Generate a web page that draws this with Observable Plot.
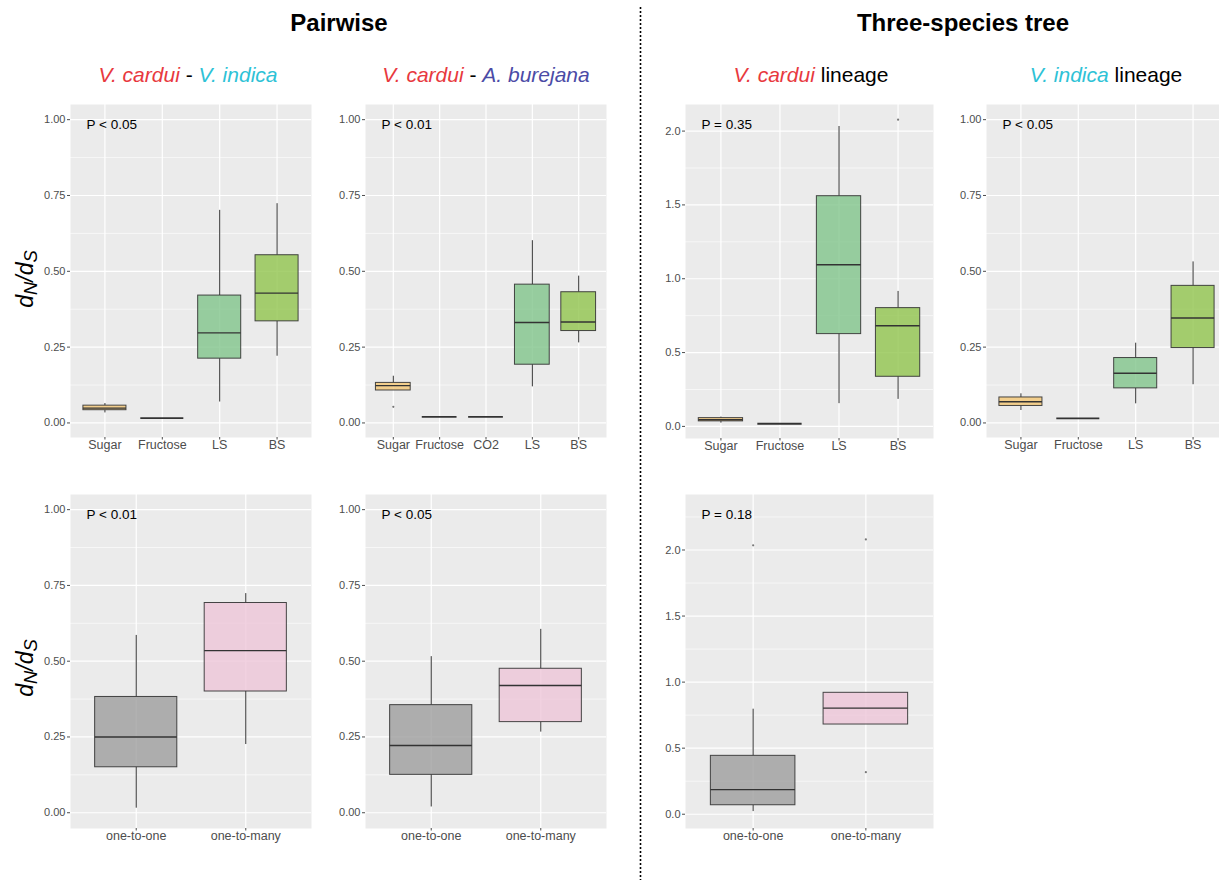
<!DOCTYPE html>
<html><head><meta charset="utf-8">
<script src="https://cdn.jsdelivr.net/npm/d3@7"></script>
<script src="https://cdn.jsdelivr.net/npm/@observablehq/plot@0.6"></script>
<style>
html,body{margin:0;padding:0;background:#fff;overflow:hidden;}
#root{position:relative;width:1219px;height:880px;overflow:hidden;font-family:"Liberation Sans",Arial,sans-serif;}
.abs{position:absolute;line-height:1;white-space:nowrap;}
.h1{font-size:24px;font-weight:bold;color:#000;transform:translateX(-50%);}
.h2{font-size:21px;color:#000;transform:translateX(-50%);}
.i{font-style:italic;}
</style></head><body><div id="root"></div>
<script>
// ---------- data ----------
const catsDiet = ["Sugar", "Fructose", "LS", "BS"];
const catsDiet5 = ["Sugar", "Fructose", "CO2", "LS", "BS"];
const catsOrtho = ["one-to-one", "one-to-many"];

// Panel 1: V. cardui - V. indica (pairwise)
const p1Lo  = [0.033, 0.016, 0.069, 0.220];
const p1Q1  = [0.042, 0.016, 0.212, 0.335];
const p1Med = [0.049, 0.016, 0.297, 0.428];
const p1Q3  = [0.057, 0.016, 0.420, 0.553];
const p1Hi  = [0.064, 0.016, 0.701, 0.723];

// Panel 2: V. cardui - A. burejana (pairwise)
const p2Lo  = [0.107, 0.020, 0.020, 0.119, 0.264];
const p2Q1  = [0.107, 0.020, 0.020, 0.192, 0.303];
const p2Med = [0.123, 0.020, 0.020, 0.331, 0.333];
const p2Q3  = [0.132, 0.020, 0.020, 0.456, 0.431];
const p2Hi  = [0.154, 0.020, 0.020, 0.601, 0.484];
const p2OutCat = ["Sugar"];
const p2OutVal = [0.053];

// Panel 3: V. cardui lineage (three-species tree)
const p3Lo  = [0.022, 0.018, 0.154, 0.183];
const p3Q1  = [0.034, 0.018, 0.625, 0.336];
const p3Med = [0.045, 0.018, 1.095, 0.682];
const p3Q3  = [0.056, 0.018, 1.559, 0.801];
const p3Hi  = [0.063, 0.018, 2.031, 0.914];
const p3OutCat = ["BS"];
const p3OutVal = [2.077];

// Panel 4: V. indica lineage (three-species tree)
const p4Lo  = [0.041, 0.015, 0.063, 0.126];
const p4Q1  = [0.056, 0.015, 0.114, 0.247];
const p4Med = [0.070, 0.015, 0.164, 0.346];
const p4Q3  = [0.084, 0.015, 0.214, 0.452];
const p4Hi  = [0.096, 0.015, 0.263, 0.531];

// Panel 5: orthology, V. cardui - V. indica
const p5Lo  = [0.015, 0.225];
const p5Q1  = [0.150, 0.400];
const p5Med = [0.250, 0.535];
const p5Q3  = [0.382, 0.692];
const p5Hi  = [0.585, 0.723];

// Panel 6: orthology, V. cardui - A. burejana
const p6Lo  = [0.019, 0.266];
const p6Q1  = [0.125, 0.299];
const p6Med = [0.222, 0.420];
const p6Q3  = [0.355, 0.475];
const p6Hi  = [0.515, 0.605];

// Panel 7: orthology, V. cardui lineage
const p7Lo  = [0.020, 0.679];
const p7Q1  = [0.068, 0.679];
const p7Med = [0.186, 0.803];
const p7Q3  = [0.442, 0.919];
const p7Hi  = [0.795, 0.919];
const p7OutCat = ["one-to-one", "one-to-many", "one-to-many"];
const p7OutVal = [2.035, 2.080, 0.318];

const pLabels = ["P < 0.05", "P < 0.01", "P = 0.35", "P < 0.05", "P < 0.01", "P < 0.05", "P = 0.18"];

const ticks1 = [0, 0.25, 0.5, 0.75, 1.0];
const minor1 = [0.125, 0.375, 0.625, 0.875];
const ticks2 = [0, 0.5, 1.0, 1.5, 2.0];
const minor2 = [0.25, 0.75, 1.25, 1.75, 2.25];

// ---------- styles ----------
const fills = {
  "Sugar": "#F4C774", "Fructose": "#F4C774", "CO2": "#C9B58F",
  "LS": "#81C48B", "BS": "#91C44D",
  "one-to-one": "#9E9E9E", "one-to-many": "#EEC5D8"
};
const FONT = "'Liberation Sans', Arial, sans-serif";
const root = document.getElementById("root");

function panel(o) {
  const n = o.cats.length;
  const idx = d3.range(n);
  const rows = idx.map(i => ({i, cat: o.cats[i], lo: o.lo[i], q1: o.q1[i], med: o.med[i], q3: o.q3[i], hi: o.hi[i]}));
  const outs = (o.outCat || []).map((c, k) => ({i: o.cats.indexOf(c), v: o.outVal[k]}));
  const ml = 45, mb = 26;
  const chart = Plot.plot({
    width: ml + o.w, height: o.h + mb,
    marginLeft: ml, marginRight: 0, marginTop: 0, marginBottom: mb,
    x: {type: "linear", domain: [-0.6, n - 0.4], axis: null},
    y: {domain: o.yDomain, axis: null},
    color: {type: "identity"},
    style: {fontFamily: FONT, background: "transparent", overflow: "visible"},
    marks: [
      Plot.frame({fill: "#EBEBEB", stroke: null}),
      Plot.ruleY(o.minor.filter(v => v < o.yDomain[1]), {stroke: "white", strokeWidth: 0.6}),
      Plot.ruleY(o.ticks, {stroke: "white", strokeWidth: 1.2}),
      Plot.ruleX(idx, {stroke: "white", strokeWidth: 1.2}),
      Plot.ruleX(rows, {x: "i", y1: "lo", y2: "q1", stroke: "#333", strokeWidth: 1}),
      Plot.ruleX(rows, {x: "i", y1: "q3", y2: "hi", stroke: "#333", strokeWidth: 1}),
      Plot.rect(rows.filter(d => d.q3 > d.q1), {x1: d => d.i - 0.375, x2: d => d.i + 0.375, y1: "q1", y2: "q3",
        fill: d => fills[d.cat], fillOpacity: 0.8, stroke: "#333", strokeOpacity: 0.9, strokeWidth: 1}),
      Plot.ruleY(rows, {x1: d => d.i - 0.375, x2: d => d.i + 0.375, y: "med", stroke: "#333",
        strokeWidth: d => d.q3 > d.q1 ? 1.4 : 1.8}),
      Plot.dot(outs, {x: "i", y: "v", r: 1.1, fill: "#777", stroke: null}),
      Plot.text([o.label], {text: d => d, frameAnchor: "top-left", dx: 16, dy: 20, lineAnchor: "middle",
        textAnchor: "start", fontSize: 13.5, fill: "#000"}),
      Plot.axisY({ticks: o.ticks, tickFormat: o.fmt, tickSize: 3, tickPadding: 2, fontSize: 11, color: "#4D4D4D", label: null}),
      Plot.axisX({ticks: idx, tickFormat: i => o.cats[i], tickSize: 2.5, tickPadding: 0, fontSize: 12.5, color: "#4D4D4D", label: null})
    ]
  });
  chart.style.position = "absolute";
  chart.style.left = (o.left - ml) + "px";
  chart.style.top = o.top + "px";
  root.appendChild(chart);
}

const f2 = d3.format(".2f"), f1 = d3.format(".1f");
const dom1 = [-0.048, 1.05];

panel({cats: catsDiet, lo: p1Lo, q1: p1Q1, med: p1Med, q3: p1Q3, hi: p1Hi, yDomain: dom1, ticks: ticks1, minor: minor1, fmt: f2,
  label: pLabels[0], left: 70, top: 104, w: 241, h: 333});
panel({cats: catsDiet5, lo: p2Lo, q1: p2Q1, med: p2Med, q3: p2Q3, hi: p2Hi, outCat: p2OutCat, outVal: p2OutVal, yDomain: dom1, ticks: ticks1, minor: minor1, fmt: f2,
  label: pLabels[1], left: 365, top: 104, w: 241, h: 333});
panel({cats: catsDiet, lo: p3Lo, q1: p3Q1, med: p3Med, q3: p3Q3, hi: p3Hi, outCat: p3OutCat, outVal: p3OutVal, yDomain: [-0.082, 2.18], ticks: ticks2, minor: minor2, fmt: f1,
  label: pLabels[2], left: 685, top: 104, w: 248, h: 334});
panel({cats: catsDiet, lo: p4Lo, q1: p4Q1, med: p4Med, q3: p4Q3, hi: p4Hi, yDomain: dom1, ticks: ticks1, minor: minor1, fmt: f2,
  label: pLabels[3], left: 986, top: 104, w: 241, h: 333});
panel({cats: catsOrtho, lo: p5Lo, q1: p5Q1, med: p5Med, q3: p5Q3, hi: p5Hi, yDomain: [-0.052, 1.05], ticks: ticks1, minor: minor1, fmt: f2,
  label: pLabels[4], left: 70, top: 494, w: 241, h: 334});
panel({cats: catsOrtho, lo: p6Lo, q1: p6Q1, med: p6Med, q3: p6Q3, hi: p6Hi, yDomain: [-0.052, 1.05], ticks: ticks1, minor: minor1, fmt: f2,
  label: pLabels[5], left: 365, top: 494, w: 241, h: 334});
panel({cats: catsOrtho, lo: p7Lo, q1: p7Q1, med: p7Med, q3: p7Q3, hi: p7Hi, outCat: p7OutCat, outVal: p7OutVal, yDomain: [-0.108, 2.42], ticks: ticks2, minor: minor2, fmt: f1,
  label: pLabels[6], left: 685, top: 494, w: 248, h: 334});

// ---------- titles ----------
function addHtml(cls, x, y, html) {
  const d = document.createElement("div");
  d.className = "abs " + cls;
  d.style.left = x + "px"; d.style.top = y + "px";
  d.innerHTML = html;
  root.appendChild(d);
}
const RED = "#E8393E", CYAN = "#2EC2D6", BLUE = "#4B4BA6";
addHtml("h1", 339, 11, "Pairwise");
addHtml("h1", 963, 11, "Three-species tree");
addHtml("h2", 188, 64, `<span class="i" style="color:${RED}">V. cardui</span> - <span class="i" style="color:${CYAN}">V. indica</span>`);
addHtml("h2", 486, 64, `<span class="i" style="color:${RED}">V. cardui</span> - <span class="i" style="color:${BLUE}">A. burejana</span>`);
addHtml("h2", 811, 64, `<span class="i" style="color:${RED}">V. cardui</span> lineage`);
addHtml("h2", 1106, 64, `<span class="i" style="color:${CYAN}">V. indica</span> lineage`);

// ---------- y-axis titles and separator ----------
const svg = d3.select(root).append("svg")
  .attr("width", 1219).attr("height", 880)
  .style("position", "absolute").style("left", 0).style("top", 0).style("pointer-events", "none");
[279, 668].forEach(cy => {
  const t = svg.append("text")
    .attr("transform", `translate(33,${cy}) rotate(-90)`)
    .attr("text-anchor", "middle")
    .attr("font-family", FONT).attr("font-size", 23).attr("font-style", "italic").attr("fill", "#000");
  t.append("tspan").text("d");
  t.append("tspan").attr("font-size", "80%").attr("baseline-shift", "-20%").text("N");
  t.append("tspan").text("/d");
  t.append("tspan").attr("font-size", "80%").attr("baseline-shift", "-20%").text("S");
});
svg.append("line").attr("x1", 640.5).attr("x2", 640.5).attr("y1", 7).attr("y2", 880)
  .attr("stroke", "#000").attr("stroke-width", 1.6).attr("stroke-dasharray", "2,2");
</script></body></html>
